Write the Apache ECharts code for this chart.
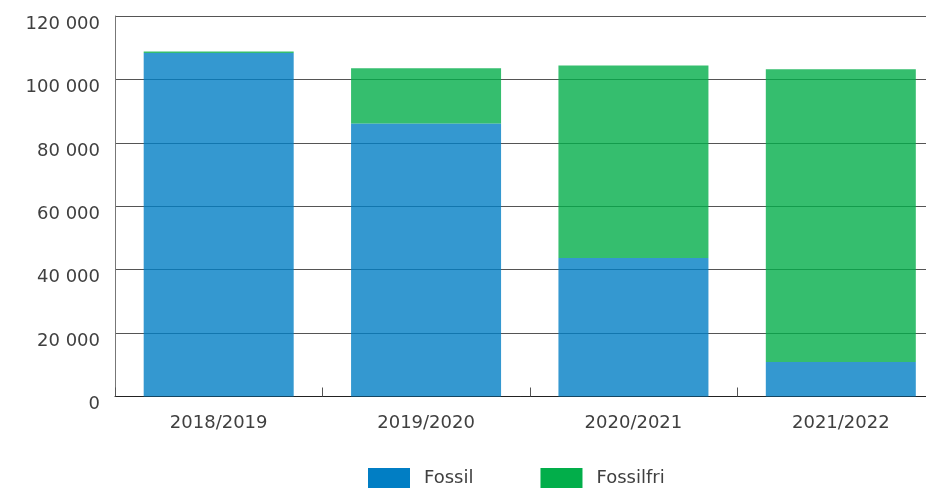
<!DOCTYPE html>
<html>
<head>
<meta charset="utf-8">
<script src="https://cdn.jsdelivr.net/npm/echarts@6/dist/echarts.min.js"></script>
<style>html,body{margin:0;padding:0;background:#fff}#c{width:926px;height:489px}</style>
</head>
<body>
<div id="c"></div>
<script>
const categories = ['2018/2019', '2019/2020', '2020/2021', '2021/2022'];
const fossil = [108300, 86100, 43700, 10900];
const fossilfri = [500, 17400, 60700, 92300];
const yTicks = [0, 20000, 40000, 60000, 80000, 100000, 120000];

const chart = echarts.init(document.getElementById('c'));
const font = 'DejaVu Sans';
chart.setOption({
  animation: false,
  grid: { left: 115, width: 829.5, top: 16, height: 380.5, containLabel: false, outerBoundsMode: 'none' },
  legend: {
    top: 463, left: 363,
    itemWidth: 42, itemHeight: 20, itemGap: 67,
    icon: 'rect',
    itemStyle: { opacity: 1 },
    textStyle: { fontFamily: font, fontSize: 18, color: '#404040', padding: [2, 0, 0, 9] },
    data: ['Fossil', 'Fossilfri']
  },
  xAxis: {
    type: 'category',
    data: categories,
    axisLine: { lineStyle: { color: '#222', width: 1 } },
    axisTick: { show: true, inside: true, length: 9, lineStyle: { color: '#555' } },
    axisLabel: { fontFamily: font, fontSize: 18, color: '#404040', margin: 18 }
  },
  yAxis: {
    type: 'value',
    min: yTicks[0], max: yTicks[yTicks.length - 1], interval: 20000,
    axisLine: { show: true, lineStyle: { color: '#777' } },
    axisTick: { show: false },
    splitLine: { lineStyle: { color: '#555', width: 1 } },
    axisLabel: {
      fontFamily: font, fontSize: 18, color: '#404040', margin: 15,
      verticalAlign: 'top', lineHeight: 18, padding: [-1, 0, 0, 0],
      formatter: v => String(v).replace(/\B(?=(\d{3})+(?!\d))/g, ' ')
    }
  },
  series: [
    { name: 'Fossil', type: 'bar', stack: 't', data: fossil, barWidth: 150,
      itemStyle: { color: '#017EC4', opacity: 0.8 } },
    { name: 'Fossilfri', type: 'bar', stack: 't', data: fossilfri, barWidth: 150,
      itemStyle: { color: '#02AE4A', opacity: 0.8 } }
  ]
});
</script>
</body>
</html>
